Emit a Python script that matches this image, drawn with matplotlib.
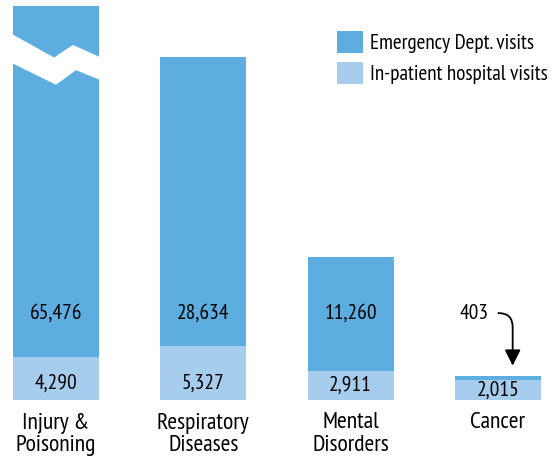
import matplotlib
matplotlib.use("Agg")
import matplotlib.pyplot as plt
from matplotlib.patches import Patch, Polygon

# dados
categorias = ["Injury &\nPoisoning", "Respiratory\nDiseases", "Mental\nDisorders", "Cancer"]
emergencia = [65476, 28634, 11260, 403]
internacao = [4290, 5327, 2911, 2015]

cor_emerg = "#5DADE0"
cor_inter = "#A6CDEE"

plt.rcParams["font.family"] = ["PT Sans Narrow", "DejaVu Sans"]

fig = plt.figure(figsize=(5.52, 4.66), dpi=100)
ax = fig.add_axes([0, 66 / 466, 1, 394 / 466])

x = list(range(len(categorias)))
largura = 0.584
ax.bar(x, internacao, width=largura, color=cor_inter)
ax.bar(x, emergencia, width=largura, bottom=internacao, color=cor_emerg)

ax.set_xlim(-0.380, 3.367)
ax.set_ylim(0, 39000)
for s in ax.spines.values():
    s.set_visible(False)
ax.set_yticks([])
ax.set_xticks(x)
ax.set_xticklabels(categorias, fontsize=17, linespacing=1.12)
ax.tick_params(axis="x", length=0, pad=9)

# rotulos dos valores
for i in x:
    if emergencia[i] > 2000:
        ax.text(i, 8600, f"{emergencia[i]:,}", ha="center", va="center", fontsize=15.5)
    ax.text(i, min(1700, internacao[i] / 2), f"{internacao[i]:,}",
            ha="center", va="center", fontsize=15.5)

# seta do cancer (403)
ax.annotate(f"{emergencia[3]:,}", xy=(3.1, 3400),
            xytext=(2.838, 8600), ha="center", va="center", fontsize=15.5,
            arrowprops=dict(arrowstyle="-|>", color="black", lw=1.3, mutation_scale=24,
                            connectionstyle="angle,angleA=0,angleB=90,rad=14",
                            shrinkA=5, shrinkB=0))

# quebra do eixo na primeira barra
quebra = Polygon([(-0.32, 36400), (-0.0136, 33900), (0.115, 35150), (0.32, 33800),
                  (0.32, 31550), (0.136, 32650), (0.0, 31200), (-0.32, 33500)],
                 closed=True, facecolor="white", edgecolor="none", zorder=5)
ax.add_patch(quebra)

handles = [Patch(facecolor=cor_emerg), Patch(facecolor=cor_inter)]
fig.legend(handles, ["Emergency Dept. visits", "In-patient hospital visits"],
           loc="upper left", bbox_to_anchor=(337 / 552, 1 - 31 / 466), frameon=False,
           fontsize=15.2, handlelength=1.23, handleheight=1.23, labelspacing=0.43,
           handletextpad=0.33, borderpad=0, borderaxespad=0)

fig.savefig("out.png", dpi=100)
